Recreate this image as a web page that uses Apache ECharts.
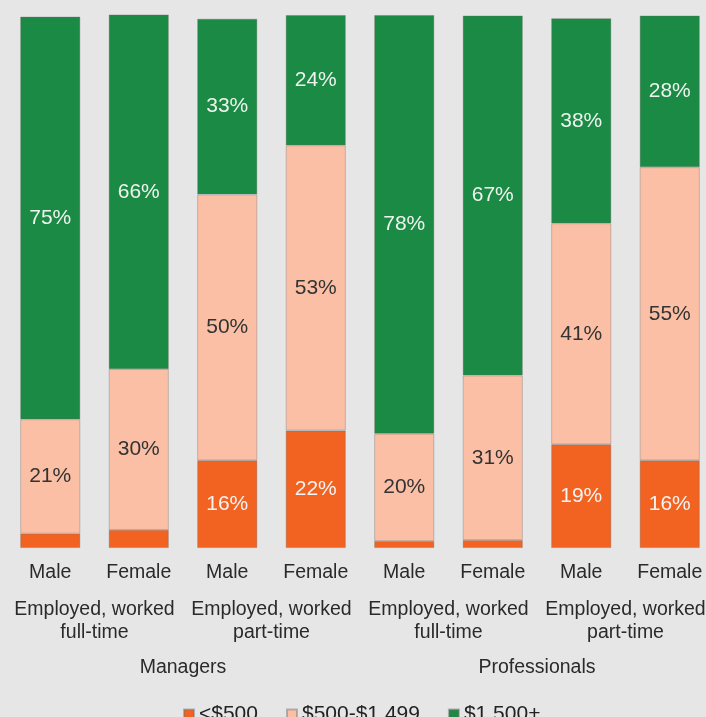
<!DOCTYPE html>
<html lang="en">
<head>
    <meta charset="UTF-8">
    <title>Weekly earnings</title>
    <script type="text/javascript" src="https://cdn.jsdelivr.net/npm/echarts@6/dist/echarts.min.js"></script>
    <style>
        html, body { margin: 0; padding: 0; background: #e6e6e6; }
        #chart { width: 706px; height: 717px; }
    </style>
</head>
<body>
    <div id="chart"></div>
    <script type="text/javascript">
        // categories (three rows under the bars)
        var sexes = ['Male', 'Female', 'Male', 'Female', 'Male', 'Female', 'Male', 'Female'];
        var workTypes = ['Employed, worked\nfull-time', 'Employed, worked\npart-time',
                         'Employed, worked\nfull-time', 'Employed, worked\npart-time'];
        var occupations = ['Managers', 'Professionals'];

        // share of each earnings band, in %
        var under500 = [2.7, 3.4, 16.4, 22.0, 1.3, 1.5, 19.4, 16.4];
        var mid500to1499 = [21.4, 30.1, 49.8, 53.4, 20.1, 30.8, 41.4, 54.9];
        var over1500 = [75.4, 66.4, 32.9, 24.4, 78.4, 67.4, 38.4, 28.4];

        var seriesNames = ['<$500', '$500-$1,499', '$1,500+'];
        var seriesColors = ['#f26322', '#fbbfa5', '#1a8a44'];
        var labelColors = ['#f4f4f4', '#333333', '#eef4ee'];

        var font = 'Arial, "Liberation Sans", sans-serif';

        function makeSeries(i, data) {
            return {
                name: seriesNames[i],
                type: 'bar',
                stack: 'total',
                barWidth: 60,
                data: data,
                itemStyle: {
                    color: seriesColors[i],
                    borderColor: 'rgba(110,110,110,0.45)',
                    borderWidth: 0.8
                },
                label: {
                    show: true,
                    position: 'inside',
                    color: labelColors[i],
                    fontFamily: font,
                    fontSize: 21,
                    formatter: function (p) {
                        // tiny slices are left unlabelled
                        return p.value < 5 ? '' : Math.round(p.value) + '%';
                    }
                }
            };
        }

        var myChart = echarts.init(document.getElementById('chart'));
        var option = {
            backgroundColor: '#e6e6e6',
            animation: false,
            grid: { left: 6, width: 708, top: 14, bottom: 169, containLabel: false, outerBoundsMode: 'none' },
            legend: {
                data: seriesNames,
                left: 178,
                top: 699,
                itemWidth: 10,
                itemHeight: 10,
                itemGap: 28,
                icon: 'rect',
                textStyle: { fontFamily: font, fontSize: 21, color: '#222' }
            },
            xAxis: [
                {
                    type: 'category',
                    data: sexes,
                    axisLine: { show: false },
                    axisTick: { show: false },
                    axisLabel: { interval: 0, margin: 15, fontFamily: font, fontSize: 19.5, color: '#2a2a2a' }
                },
                {
                    type: 'category',
                    data: workTypes,
                    position: 'bottom',
                    offset: 50,
                    axisLine: { show: false },
                    axisTick: { show: false },
                    axisLabel: { interval: 0, margin: 0, lineHeight: 23, fontFamily: font, fontSize: 19.5, color: '#2a2a2a' }
                },
                {
                    type: 'category',
                    data: occupations,
                    position: 'bottom',
                    offset: 110,
                    axisLine: { show: false },
                    axisTick: { show: false },
                    axisLabel: { interval: 0, margin: 0, fontFamily: font, fontSize: 19.5, color: '#2a2a2a' }
                }
            ],
            yAxis: {
                type: 'value',
                min: 0,
                max: 100,
                show: false
            },
            series: [
                makeSeries(0, under500),
                makeSeries(1, mid500to1499),
                makeSeries(2, over1500)
            ]
        };
        myChart.setOption(option);
    </script>
</body>
</html>
